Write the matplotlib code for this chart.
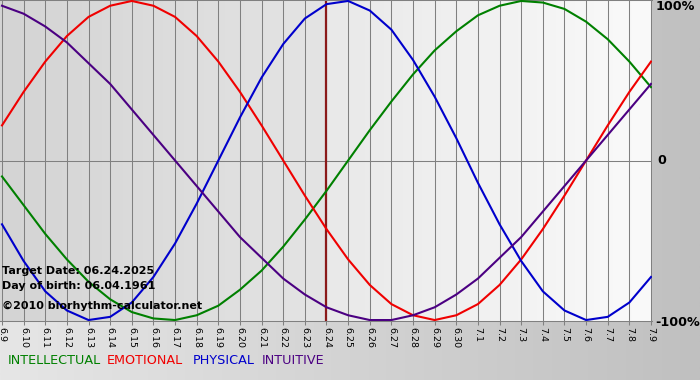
import numpy as np
import matplotlib
matplotlib.use("Agg")
import matplotlib.pyplot as plt
from matplotlib.colors import LinearSegmentedColormap

# ---- data ----
dates = ["6.9", "6.10", "6.11", "6.12", "6.13", "6.14", "6.15", "6.16", "6.17", "6.18",
         "6.19", "6.20", "6.21", "6.22", "6.23", "6.24", "6.25", "6.26", "6.27", "6.28",
         "6.29", "6.30", "7.1", "7.2", "7.3", "7.4", "7.5", "7.6", "7.7", "7.8", "7.9"]
target_date = "6.24"

intellectual = [-0.10, -0.28, -0.46, -0.62, -0.76, -0.87, -0.95, -0.99, -1.00, -0.97,
                -0.91, -0.81, -0.69, -0.54, -0.37, -0.19, 0.00, 0.19, 0.37, 0.54,
                0.69, 0.81, 0.91, 0.97, 1.00, 0.99, 0.95, 0.87, 0.76, 0.62, 0.46]
emotional = [0.22, 0.43, 0.62, 0.78, 0.90, 0.97, 1.00, 0.97, 0.90, 0.78,
             0.62, 0.43, 0.22, 0.00, -0.22, -0.43, -0.62, -0.78, -0.90, -0.97,
             -1.00, -0.97, -0.90, -0.78, -0.62, -0.43, -0.22, 0.00, 0.22, 0.43, 0.62]
physical = [-0.40, -0.63, -0.82, -0.94, -1.00, -0.98, -0.89, -0.73, -0.52, -0.27,
            0.00, 0.27, 0.52, 0.73, 0.89, 0.98, 1.00, 0.94, 0.82, 0.63,
            0.40, 0.14, -0.14, -0.40, -0.63, -0.82, -0.94, -1.00, -0.98, -0.89, -0.73]
intuitive = [0.97, 0.92, 0.84, 0.74, 0.61, 0.48, 0.32, 0.16, 0.00, -0.16,
             -0.32, -0.48, -0.61, -0.74, -0.84, -0.92, -0.97, -1.00, -1.00, -0.97,
             -0.92, -0.84, -0.74, -0.61, -0.48, -0.32, -0.16, 0.00, 0.16, 0.32, 0.48]

series_names = ["INTELLECTUAL", "EMOTIONAL", "PHYSICAL", "INTUITIVE"]
series_values = [intellectual, emotional, physical, intuitive]
series_colors = ["#008000", "#f00000", "#0000cc", "#4b0082"]

y_labels = ["100%", "0", "-100%"]
info_lines = ["Target Date: 06.24.2025", "Day of birth: 06.04.1961",
              "\u00a92010 biorhythm-calculator.net"]

# ---- figure ----
W, H = 700, 380
fig = plt.figure(figsize=(W / 100, H / 100), dpi=100)
fig.patch.set_facecolor("#c8c8c8")

# figure background gradient
bg = fig.add_axes([0, 0, 1, 1], zorder=-5)
bg_cmap = LinearSegmentedColormap.from_list("bg", ["#e6e6e6", "#c0c0c0"])
bg.imshow(np.linspace(0, 1, 256)[None, :], cmap=bg_cmap, aspect="auto",
          extent=[0, 1, 0, 1])
bg.set_axis_off()

ax_w = 652 / W
ax_h = 321 / H
ax = fig.add_axes([0.0, 1 - ax_h, ax_w, ax_h], zorder=1)

x = np.arange(len(dates))
ti = dates.index(target_date)
xmin, xmax = -0.092, len(dates) - 1 + 0.046
ymin, ymax = -1.006, 1.006

# plot-area background gradients (past darker, future lighter)
cl = LinearSegmentedColormap.from_list("l", ["#d4d4d4", "#e4e4e4"])
cr = LinearSegmentedColormap.from_list("r", ["#e9e9e9", "#fafafa"])
grad = np.linspace(0, 1, 256)[None, :]
ax.imshow(grad, cmap=cl, aspect="auto", extent=[xmin, ti, ymin, ymax], zorder=0)
ax.imshow(grad, cmap=cr, aspect="auto", extent=[ti, xmax, ymin, ymax], zorder=0)

# grid
for xi in x:
    ax.axvline(xi, color="#808080", lw=0.75, zorder=1)
ax.axhline(0, color="#808080", lw=0.75, zorder=1)

# target line
ax.axvline(ti, color="#8b1a1a", lw=1.6, zorder=2)

# curves
for vals, col in zip(series_values, series_colors):
    ax.plot(x, vals, color=col, lw=1.5, zorder=3, solid_joinstyle="round")

ax.set_xlim(xmin, xmax)
ax.set_ylim(ymin, ymax)
ax.set_xticks(x)
ax.set_xticklabels(dates, rotation=-90, fontsize=6.8, family="DejaVu Sans")
ax.tick_params(axis="x", length=3, width=0.75, color="#808080", pad=1.5)
ax.set_yticks([])
for s in ["left", "right"]:
    ax.spines[s].set_visible(False)
for s in ["top", "bottom"]:
    ax.spines[s].set_color("#808080")
    ax.spines[s].set_linewidth(0.75)

# info text inside plot
for txt, yp in zip(info_lines, [271, 286, 306]):
    fig.text(2 / W, 1 - yp / H, txt, fontsize=8, fontweight="bold",
             color="black", va="center", ha="left", zorder=10)

# right-side labels
for txt, xp, yp in zip(y_labels, [656, 657, 655], [7, 161, 322]):
    fig.text(xp / W, 1 - yp / H, txt, fontsize=9.2, fontweight="bold",
             color="black", va="center", ha="left")

# legend words
for name, col, xp in zip(series_names, series_colors, [8, 107, 193, 262]):
    fig.text(xp / W, 1 - 361 / H, name, fontsize=9.2, color=col,
             va="center", ha="left")

fig.savefig("out.png", dpi=100, facecolor=fig.get_facecolor())
